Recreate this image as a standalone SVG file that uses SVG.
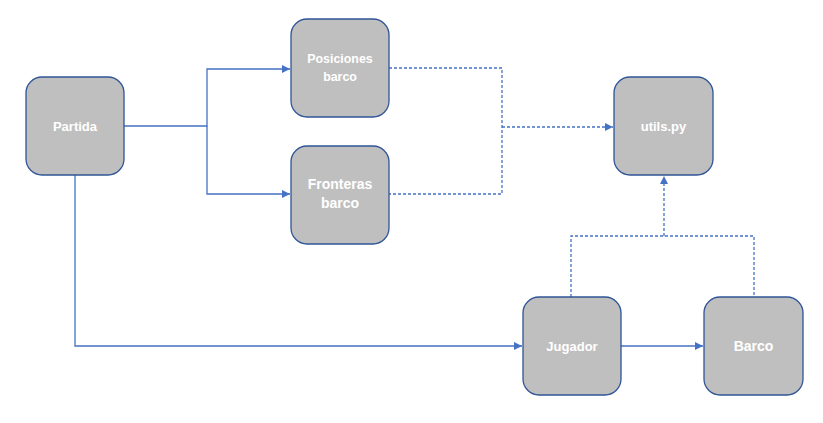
<svg xmlns="http://www.w3.org/2000/svg" width="823" height="423" viewBox="0 0 823 423">
<defs>
<style>
.node rect{fill:#BFBFBF;stroke:#2F5597;stroke-width:1.3}
.node text{fill:#FFFFFF;font-family:"Liberation Sans",Arial,sans-serif;font-weight:bold;text-anchor:middle}
.s{font-size:13px}
.p{font-size:12.4px}
.l{font-size:14px}
.c{fill:none;stroke:#4472C4;stroke-width:1.3}
.d{stroke-dasharray:3 2}
</style>
<marker id="ah" viewBox="0 0 10 10" refX="10" refY="5" markerWidth="8" markerHeight="8" markerUnits="userSpaceOnUse" orient="auto">
<path d="M0,0 L10,5 L0,10 z" fill="#4472C4"/>
</marker>
</defs>
<rect width="823" height="423" fill="#FFFFFF"/>
<g id="connectors">
<path class="c" d="M124,126 H207 V69 H290" marker-end="url(#ah)"/>
<path class="c" d="M207,126 V194 H290" marker-end="url(#ah)"/>
<path class="c" d="M75,175 V346 H522" marker-end="url(#ah)"/>
<path class="c d" d="M389,68 H502 V194 H389"/>
<path class="c d" d="M502,127 H613" marker-end="url(#ah)"/>
<path class="c d" d="M571,297 V236 H754 V297"/>
<path class="c d" d="M664,236 V176" marker-end="url(#ah)"/>
<path class="c" d="M621,346 H703" marker-end="url(#ah)"/>
</g>
<g id="partida" class="node"><rect x="26" y="77" width="98" height="98" rx="16"/><text class="s" x="75" y="131">Partida</text></g>
<g id="posiciones" class="node"><rect x="291" y="19" width="98" height="98" rx="16"/><text class="p" x="340" y="63">Posiciones</text><text class="p" x="340" y="81">barco</text></g>
<g id="fronteras" class="node"><rect x="291" y="146" width="98" height="98" rx="16"/><text class="l" x="340" y="189">Fronteras</text><text class="l" x="340" y="208">barco</text></g>
<g id="utils" class="node"><rect x="614" y="77" width="99" height="98" rx="16"/><text class="s" x="663.5" y="131">utils.py</text></g>
<g id="jugador" class="node"><rect x="523" y="297" width="98" height="98" rx="16"/><text class="s" x="572" y="351">Jugador</text></g>
<g id="barco" class="node"><rect x="704" y="297" width="99" height="98" rx="16"/><text class="l" x="753.5" y="351">Barco</text></g>
</svg>
